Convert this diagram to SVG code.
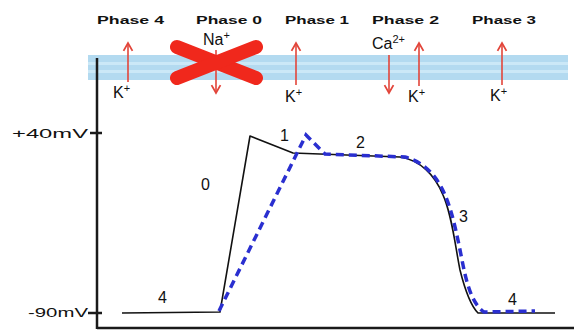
<svg xmlns="http://www.w3.org/2000/svg" width="574" height="331" viewBox="0 0 574 331">
<defs>
<style>
.ph{font-family:"Liberation Sans",Arial,sans-serif;font-size:11px;fill:#111;font-weight:bold}
.ion{font-family:"Liberation Sans",Arial,sans-serif;font-size:16px;fill:#111}
.sup{font-family:"Liberation Sans",Arial,sans-serif;font-size:11px;fill:#111}
.num{font-family:"Liberation Sans",Arial,sans-serif;font-size:16px;fill:#111}
.mv{font-family:"Liberation Sans",Arial,sans-serif;font-size:13px;fill:#111}
.arr{stroke:#e2453a;stroke-width:1.6;fill:none;marker-end:url(#ah)}
.axis{stroke:#1a1a1a;stroke-width:2.5;fill:none}
.blk{stroke:#111;stroke-width:1.6;fill:none;stroke-linejoin:round}
.blu{stroke:#2a2fd0;stroke-width:3.5;fill:none;stroke-dasharray:8 5}
</style>
<marker id="ah" viewBox="0 0 10 10" refX="8" refY="5" markerWidth="7" markerHeight="7" orient="auto">
<path d="M1,1 L8,5 L1,9" fill="none" stroke="#e2453a" stroke-width="1.6"/>
</marker>
</defs>
<rect width="574" height="331" fill="#fff"/>
<!-- membrane -->
<rect x="88" y="55" width="480" height="25" fill="#b3daf0"/>
<rect x="88" y="62" width="480" height="3" fill="#cbe8f7"/>
<rect x="88" y="70" width="480" height="3" fill="#cbe8f7"/>
<!-- phase labels -->
<g id="phase-labels">
<text class="ph" x="97" y="24" textLength="67" lengthAdjust="spacingAndGlyphs">Phase 4</text>
<text class="ph" x="196" y="24" textLength="66" lengthAdjust="spacingAndGlyphs">Phase 0</text>
<text class="ph" x="285" y="24" textLength="64" lengthAdjust="spacingAndGlyphs">Phase 1</text>
<text class="ph" x="372" y="24" textLength="67" lengthAdjust="spacingAndGlyphs">Phase 2</text>
<text class="ph" x="472" y="24" textLength="64" lengthAdjust="spacingAndGlyphs">Phase 3</text>
</g>
<!-- axes -->
<g id="axes">
<line class="axis" x1="97" y1="58" x2="97" y2="329"/>
<line class="axis" x1="97" y1="328" x2="574" y2="328"/>
<line class="axis" x1="90" y1="133" x2="102" y2="133" stroke-width="1.6"/>
<line class="axis" x1="88" y1="313" x2="102" y2="313" stroke-width="1.6"/>
<text class="mv" x="12" y="138" textLength="76" lengthAdjust="spacingAndGlyphs">+40mV</text>
<text class="mv" x="28" y="317" font-size="11" textLength="60" lengthAdjust="spacingAndGlyphs">-90mV</text>
</g>
<!-- ion arrows -->
<g id="ions">
<line class="arr" x1="128" y1="82" x2="128" y2="43"/>
<text class="ion" x="113" y="98">K<tspan class="sup" dy="-6">+</tspan></text>
<line class="arr" x1="216" y1="50" x2="216" y2="93"/>
<text class="ion" x="203" y="45">Na<tspan class="sup" dy="-6">+</tspan></text>
<line class="arr" x1="296" y1="85" x2="296" y2="43"/>
<text class="ion" x="285" y="102">K<tspan class="sup" dy="-6">+</tspan></text>
<line class="arr" x1="389" y1="55" x2="389" y2="93"/>
<text class="ion" x="372" y="49">Ca<tspan class="sup" dy="-6">2+</tspan></text>
<line class="arr" x1="419" y1="86" x2="419" y2="43"/>
<text class="ion" x="408" y="102">K<tspan class="sup" dy="-6">+</tspan></text>
<line class="arr" x1="502" y1="85" x2="502" y2="43"/>
<text class="ion" x="490" y="101">K<tspan class="sup" dy="-6">+</tspan></text>
</g>
<!-- red X -->
<g id="blocked">
<line x1="177" y1="47" x2="256" y2="78" stroke="#f0281c" stroke-width="14" stroke-linecap="round"/>
<line x1="177" y1="78" x2="256" y2="47" stroke="#f0281c" stroke-width="14" stroke-linecap="round"/>
</g>
<!-- curves -->
<g id="curves">
<path class="blk" d="M122,313 L220,312 L250,136 L293,153 L400,157 C420,160 435,175 443,195 C452,215 455,245 460,270 C465,290 470,305 478,313 L555,313"/>
<path class="blu" d="M219,311 L306,135 L325,154 L405,157 C425,162 438,178 445,195 C453,213 458,240 463,265 C468,290 474,305 484,312 L535,311"/>
</g>
<!-- phase numbers -->
<g id="numbers">
<text class="num" x="201" y="190">0</text>
<text class="num" x="280" y="141">1</text>
<text class="num" x="356" y="148">2</text>
<text class="num" x="459" y="222">3</text>
<text class="num" x="158" y="303">4</text>
<text class="num" x="508" y="305">4</text>
</g>
</svg>
